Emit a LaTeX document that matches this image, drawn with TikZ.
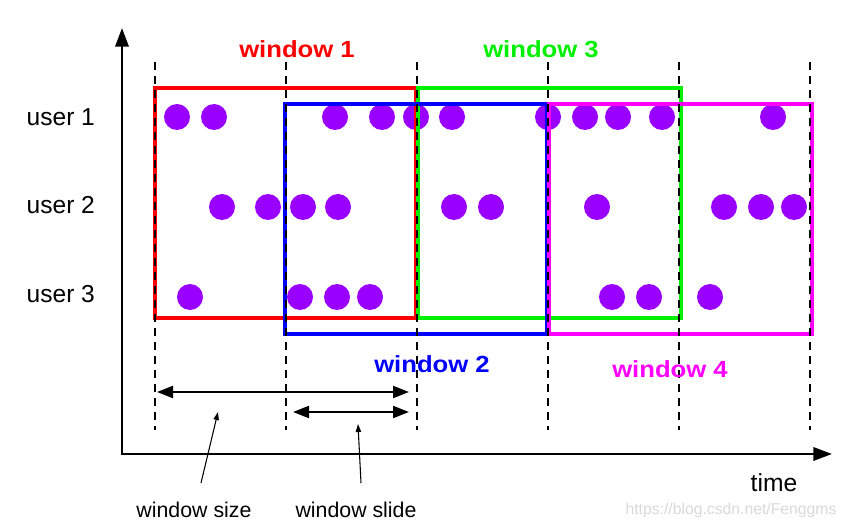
\documentclass[tikz,border=0pt]{standalone}
\usepackage{fontspec}
\setmainfont{Liberation Sans}
\usetikzlibrary{arrows.meta}

\definecolor{evpurple}{HTML}{9900FF}
\definecolor{winred}{HTML}{FF0000}
\definecolor{wingreen}{HTML}{00F000}
\definecolor{winblue}{HTML}{0000FF}
\definecolor{winpink}{HTML}{FF00FF}

\begin{document}
\begin{tikzpicture}[x=0.75pt,y=-0.75pt]

    \tikzset{
      event/.style={
        circle,
        fill=evpurple,
        inner sep=0pt,
        minimum size=19.5pt,
      },
      winbox/.style={line width=2.3pt},
      winlabel/.style={anchor=base, font=\bfseries\fontsize{17.5}{20}\selectfont, xscale=1.1},
      userlabel/.style={anchor=base west, font=\fontsize{18.4}{22}\selectfont},
      note/.style={anchor=base, font=\fontsize{16}{19}\selectfont},
      tickline/.style={line width=1.5pt, dash pattern=on 6pt off 4.5pt},
      axis/.style={line width=1.9pt},
      span/.style={line width=1.5pt, {Triangle[length=12pt,width=9pt]}-{Triangle[length=12pt,width=9pt]}},
      pointer/.style={line width=0.8pt, -{Triangle[length=6pt,width=4pt]}},
    }
    \useasboundingbox[fill=white] (0,0) rectangle (846,527);

    % events per user
    \foreach \x [count=\i] in {177,214,335,382,416,452,548,585,618,662,773}
      \node[event] (ua\i) at (\x,117) {};
    \foreach \x [count=\i] in {222,268,303,338,454,491,597,724,761,794}
      \node[event] (ub\i) at (\x,207) {};
    \foreach \x [count=\i] in {190,300,337,370,612,649,710}
      \node[event] (uc\i) at (\x,297) {};

    % windows
    \draw[winbox, color={winred}] (155,88) rectangle (416,318);
    \draw[winbox, color={wingreen}] (418,88) rectangle (681,318);
    \draw[winbox, color={winblue}] (285,104) rectangle (547,334);
    \draw[winbox, color={winpink}] (549,104) rectangle (812,334);

    % time marks
    \foreach \x [count=\i] in {155,286,417,548,679,810} {
      \coordinate (top\i) at (\x,62);
      \coordinate (bot\i) at (\x,430);
      \draw[tickline] (top\i) -- (bot\i);
    }

    % axes
    \coordinate (origin) at (122,454);
    \coordinate (ytip) at (122,28);
    \coordinate (xtip) at (832,454);
    \draw[axis, {Triangle[length=14pt,width=10pt]}-{Triangle[length=14pt,width=10pt]}] (ytip) -- (origin) -- (xtip);

    \node[winlabel, text=winred] (win1) at (297,58) {window 1};
    \node[winlabel, text=wingreen] (win3) at (541,58) {window 3};
    \node[winlabel, text=winblue] (win2) at (432,372) {window 2};
    \node[winlabel, text=winpink] (win4) at (670,377) {window 4};

    \node[userlabel] (user1) at (22,126) {user 1};
    \node[userlabel] (user2) at (22,214) {user 2};
    \node[userlabel] (user3) at (22,303) {user 3};

    % size and slide
    \coordinate (sizeL) at (157,392);
    \coordinate (sizeR) at (409,392);
    \coordinate (slideL) at (293,412);
    \coordinate (slideR) at (409,412);
    \draw[span] (sizeL) -- (sizeR);
    \draw[span] (slideL) -- (slideR);

    \node[note] (sizelbl) at (194,517) {window size};
    \node[note] (slidelbl) at (356,517) {window slide};
    \coordinate (sizefoot) at (201,483);
    \coordinate (sizetip) at (218,412);
    \coordinate (slidefoot) at (361,483);
    \coordinate (slidetip) at (358,424);
    \draw[pointer] (sizefoot) -- (sizetip);
    \draw[pointer] (slidefoot) -- (slidetip);

    \node[anchor=base, font=\fontsize{18.5}{22}\selectfont] (timelbl) at (774,491) {time};
    \node[anchor=base, text=black!15, font=\fontsize{11.8}{14}\selectfont] (mark) at (731,514) {https://blog.csdn.net/Fenggms};

\end{tikzpicture}
\end{document}
